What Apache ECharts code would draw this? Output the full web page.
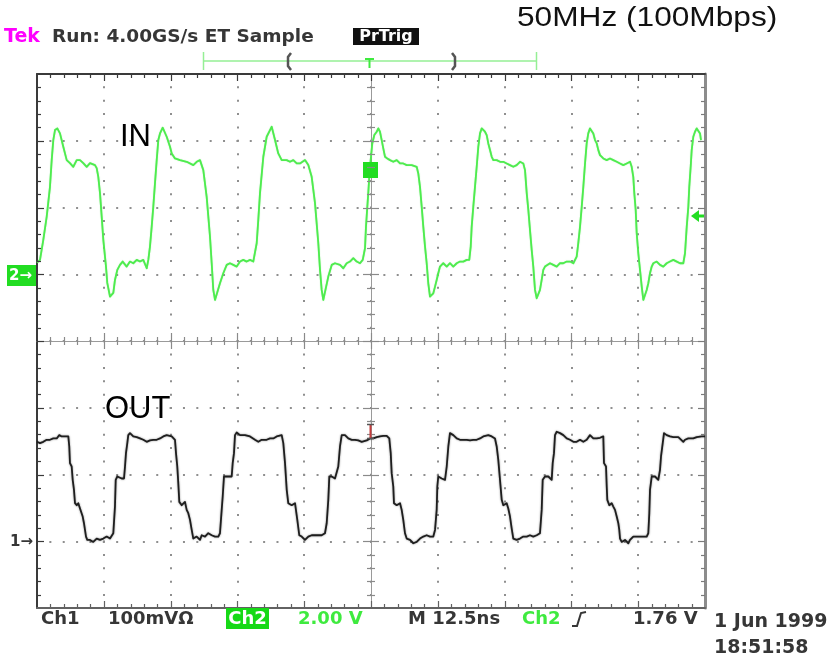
<!DOCTYPE html>
<html>
<head>
<meta charset="utf-8">
<title>50MHz (100Mbps)</title>
<script src="https://cdn.jsdelivr.net/npm/echarts@6/dist/echarts.min.js"></script>
<style>
  html, body { margin: 0; padding: 0; background: #ffffff; }
  #chart { width: 832px; height: 657px; }
</style>
</head>
<body>
<div id="chart"></div>
<script>
// Horizontal: time in ns relative to the trigger, 12.5 ns/div over 10 divisions
const timeRange = [-62.5, 62.5];
const timePerDiv = 12.5;
const minorPerDiv = 5;
// Graticule: 8 vertical divisions
const divRange = [-4, 4];
// Ch2 (IN): 2.00 V/div, ground one division above centre
const ch2Range = [-10, 6];
const ch2PerDiv = 2;
// Ch1 (OUT): 100 mV/div, ground three divisions below centre
const ch1Range = [-100, 700];
const ch1PerDiv = 100;

// Ch2 trace, [ns, V]
const inTrace = [
  [-62.5,0.35],[-61.94,0.43],[-61.32,1.03],[-60.69,1.72],[-60.07,2.62],[-59.75,3.42],[-59.45,4.02],[-59.13,4.32],
  [-58.70,4.37],[-58.20,4.22],[-57.58,3.82],[-56.94,3.42],[-56.33,3.33],[-55.71,3.22],[-55.07,3.42],[-54.45,3.42],
  [-53.84,3.33],[-53.20,3.22],[-52.58,3.33],[-51.65,3.27],[-51.33,3.18],[-51.03,2.92],[-50.71,2.43],[-50.39,1.72],
  [-50.09,1.03],[-49.59,0.23],[-49.35,-0.26],[-48.84,-0.67],[-48.52,-0.72],[-48.22,-0.56],[-47.91,-0.17],[-47.47,0.13],
  [-46.97,0.28],[-46.47,0.38],[-45.72,0.23],[-45.10,0.38],[-44.48,0.33],[-43.84,0.43],[-43.23,0.38],[-42.61,0.43],
  [-41.97,0.18],[-41.67,0.43],[-41.36,0.83],[-41.04,1.42],[-40.74,2.02],[-40.42,2.73],[-40.10,3.42],[-39.80,4.02],
  [-39.48,4.22],[-38.98,4.39],[-38.23,4.12],[-37.61,3.82],[-37.29,3.62],[-36.68,3.47],[-35.74,3.42],[-34.49,3.37],
  [-33.25,3.27],[-32.62,3.37],[-32.00,3.42],
  [-31.38,3.12],[-30.75,2.32],[-30.13,1.13],[-29.81,0.33],[-29.51,-0.47],[-29.19,-0.77],[-28.87,-0.77],[-28.26,-0.27],
  [-27.64,0.03],[-27.00,0.28],[-26.39,0.33],[-25.77,0.28],[-25.13,0.23],[-24.51,0.38],[-23.90,0.43],[-23.26,0.38],
  [-22.64,0.43],[-22.03,0.38],[-21.39,0.93],[-21.09,1.63],[-20.77,2.43],[-20.15,3.52],[-19.52,4.12],[-18.90,4.32],
  [-18.58,4.42],[-17.96,4.02],[-17.35,3.62],[-16.71,3.42],[-15.78,3.42],[-15.16,3.37],[-14.54,3.42],[-13.90,3.32],
  [-13.29,3.32],[-12.35,3.42],[-11.73,3.27],[-11.10,2.92],[-10.48,2.13],[-9.86,0.93],[-9.54,0.13],[-9.23,-0.47],
  [-8.93,-0.77],[-8.61,-0.72],[-7.99,-0.07],[-7.35,0.28],[-6.74,0.33],
  [-5.80,0.28],[-5.18,0.18],[-4.55,0.33],[-3.93,0.38],[-3.31,0.48],[-2.68,0.38],[-2.06,0.33],[-1.55,0.43],
  [-1.12,0.78],[-0.94,1.42],[-0.69,2.02],[-0.51,2.43],[-0.32,2.92],[-0.06,3.42],[0.24,3.92],[0.62,4.17],
  [1.07,4.27],[1.37,4.37],[1.68,4.27],[2.00,4.02],[2.30,3.77],[2.62,3.52],[3.05,3.47],[3.56,3.42],
  [4.17,3.37],[4.81,3.42],[5.43,3.32],[6.04,3.32],[6.68,3.27],[7.62,3.27],[8.55,3.22],[8.85,3.02],
  [9.17,2.62],[9.49,2.02],[9.79,1.42],[10.11,0.83],[10.42,0.33],[10.72,-0.27],[11.04,-0.67],[11.36,-0.69],
  [11.66,-0.57],[11.98,-0.37],[12.29,-0.17],[12.59,0.03],[12.91,0.23],[13.53,0.33],[14.17,0.23],[14.78,0.33],
  [15.40,0.23],[16.04,0.33],[16.65,0.38],[17.27,0.38],[17.91,0.43],[18.39,0.43],[18.66,0.83],[18.84,1.42],
  [19.14,2.02],[19.46,2.62],[19.78,3.22],[20.08,3.82],[20.40,4.22],[20.72,4.37],[21.01,4.37],[21.33,4.27],
  [21.65,4.17],[21.95,3.92],[22.27,3.72],[22.59,3.52],[22.89,3.42],[23.52,3.42],[24.14,3.37],[24.76,3.37],
  [25.39,3.32],[26.01,3.27],[26.63,3.22],[27.26,3.27],[27.88,3.37],
  [28.50,3.32],[28.82,3.12],[29.14,2.43],[29.44,1.93],[29.75,1.33],[30.07,0.73],[30.37,0.23],[30.69,-0.47],
  [31.01,-0.72],[31.31,-0.67],[31.62,-0.47],[31.94,-0.17],[32.24,0.13],[32.56,0.23],[32.88,0.28],[33.50,0.33],
  [34.11,0.28],[34.75,0.23],[35.37,0.33],[35.99,0.33],[36.62,0.38],[37.24,0.38],[37.86,0.33],[38.17,0.28],
  [38.49,0.53],[38.79,0.93],[39.11,1.42],[39.43,2.02],[39.73,2.62],[40.05,3.32],[40.36,3.92],[40.66,4.22],
  [40.98,4.37],[41.30,4.42],[41.60,4.22],[41.92,4.02],[42.24,3.92],[42.54,3.72],[42.85,3.57],[43.47,3.47],
  [44.11,3.42],[44.72,3.47],[45.34,3.42],[45.98,3.37],[46.60,3.32],[47.21,3.27],[47.85,3.32],[48.47,3.37],
  [48.78,3.22],[49.08,2.92],[49.27,2.43],[49.53,1.93],[49.72,1.23],[50.02,0.63],[50.34,0.13],[50.66,-0.37],
  [50.96,-0.77],[51.27,-0.72],[51.59,-0.47],[51.89,-0.27],[52.21,0.03],[52.53,0.23],[52.83,0.33],[53.46,0.38],
  [54.08,0.28],[54.70,0.23],[55.33,0.33],[55.95,0.38],[56.57,0.43],[57.21,0.38],[57.82,0.33],[58.44,0.33],
  [58.76,0.63],[59.08,1.42],[59.38,2.02],[59.56,2.62],[59.82,3.22],[60.01,3.72],[60.31,4.12],[60.63,4.27],
  [60.95,4.37],[61.25,4.32],[61.57,4.22],[61.75,4.02]
];

// Ch1 trace, [ns, mV]
const outTrace = [
  [-62.5,149],[-61.94,147],[-61.32,149],[-60.69,152],[-60.07,152],[-59.45,154],[-58.81,154],[-58.33,159],
  [-57.88,157],[-57.26,157],[-56.64,157],[-56.46,142],[-56.33,117],[-56.01,112],[-55.82,92],[-55.58,77],
  [-55.39,57],[-55.07,54],[-54.77,57],[-54.45,49],[-54.14,47],[-53.95,37],[-53.71,27],[-53.52,17],
  [-53.33,7],[-53.09,2],[-52.58,2],[-51.97,-1],[-51.33,4],[-50.71,2],[-50.09,4],[-49.46,7],
  [-48.84,4],[-48.22,12],[-47.91,52],[-47.77,92],[-47.47,97],[-46.65,94],[-46.22,94],[-46.03,112],
  [-45.85,132],[-45.60,147],[-45.42,159],[-45.10,162],[-44.48,157],[-43.84,156],[-43.23,154],[-42.61,152],
  [-41.97,149],[-41.36,151],[-40.74,152],[-40.10,152],[-39.48,154],[-38.87,157],[-38.23,159],[-37.93,157],
  [-37.29,157],[-36.68,152],[-36.49,132],[-36.25,112],[-36.06,87],[-35.87,59],[-35.42,54],[-34.81,59],
  [-34.49,47],[-34.19,42],[-33.87,32],[-33.55,17],[-33.25,4],[-32.62,7],[-32.00,2],
  [-31.68,9],[-31.06,7],[-30.45,12],[-29.81,9],[-29.19,7],[-28.57,7],[-28.26,12],[-27.94,47],
  [-27.75,67],[-27.51,97],[-26.70,97],[-26.07,97],[-25.88,117],[-25.64,132],[-25.45,159],[-25.13,163],
  [-24.51,159],[-23.58,159],[-22.64,157],[-21.71,152],[-21.09,149],[-20.45,152],[-19.52,152],[-18.90,154],
  [-18.28,154],[-17.65,157],[-16.71,159],[-16.41,147],[-16.09,117],[-15.77,77],[-15.48,57],[-14.84,54],
  [-14.22,57],[-13.79,32],[-13.42,9],[-12.97,7],[-12.35,2],[-11.73,7],[-11.10,9],[-10.48,9],
  [-9.86,9],[-9.23,9],[-8.61,12],[-8.29,27],[-7.99,62],[-7.80,97],
  [-7.35,97],[-6.74,94],[-6.42,92],[-6.12,112],[-5.80,142],[-5.48,159],[-4.87,159],[-4.25,154],
  [-3.61,152],[-2.99,152],[-2.38,151],[-1.74,149],[-1.44,147],[-0.80,151],[-0.19,154],[0.43,154],
  [1.07,156],[1.68,157],[2.30,158],[2.94,158],[3.42,154],[3.69,132],[3.87,102],[4.17,82],
  [4.30,57],[4.81,54],[5.43,57],[5.74,47],[6.04,32],[6.36,12],[6.68,4],[7.30,2],
  [7.92,-3],[8.55,-1],[9.17,4],[9.79,7],[10.42,9],[11.04,7],[11.66,7],[11.98,17],
  [12.29,47],[12.41,82],[12.59,97],[13.23,94],[13.85,92],[14.17,112],[14.47,142],[14.78,162],
  [15.40,159],[16.04,154],[16.65,152],[17.27,152],[17.91,152],[18.53,151],[19.14,152],[19.78,152],
  [20.40,154],[21.01,157],[21.95,159],[22.59,157],[23.20,154],[23.52,142],[23.82,122],[24.14,92],
  [24.46,62],[24.76,54],[25.39,57],[25.69,49],[26.01,37],[26.33,19],[26.63,4],[27.26,2],
  [27.88,4],[28.50,7],[29.14,7],[29.75,9],
  [30.37,7],[31.01,9],[31.62,12],[31.94,47],[32.13,92],[32.56,97],[33.18,97],[33.81,92],
  [34.00,117],[34.24,132],[34.43,159],[34.75,164],[35.37,162],[35.99,159],[36.62,154],[37.24,152],
  [37.86,149],[38.49,149],[39.11,152],[39.73,149],[40.36,152],[40.98,159],[41.60,154],[42.24,154],
  [42.85,155],
  [43.47,157],[43.60,117],[43.98,112],[44.11,82],[44.22,62],[44.59,54],[45.04,57],[45.34,52],
  [45.66,47],[45.98,37],[46.28,27],[46.46,17],[46.60,4],[46.91,-1],[47.53,2],[48.15,-3],
  [48.47,2],[49.08,7],[49.72,7],[50.34,7],[50.96,7],[51.59,7],[51.89,12],[52.08,42],
  [52.21,77],[52.53,97],[53.15,97],[53.76,92],[54.08,107],[54.27,127],[54.59,147],[54.83,162],
  [55.33,159],[55.95,157],[56.57,156],[57.51,156],[58.44,149],[58.76,152],[59.38,154],[60.31,154],
  [60.95,156],[61.88,157],[62.5,157]
];

// Readout texts
const headerLeft = 'Run: 4.00GS/s ET Sample';
const headerBadge = 'PrTrig';
const title = '50MHz (100Mbps)';
const traceNames = ['IN', 'OUT'];
const readout = {
  ch1: 'Ch1', ch1Scale: '100mV\u03A9', ch2: 'Ch2', ch2Scale: '2.00 V',
  timebase: 'M 12.5ns', trigSource: 'Ch2', trigLevel: '1.76 V',
  date: '1 Jun 1999', time: '18:51:58'
};

const GREEN = '#3fea3f';
const TRACE_GREEN = '#4eec4e';
const INK = '#363636';
const SCOPE_FONT = '"DejaVu Sans", sans-serif';

// Screen graticule box
const PLOT = { left: 37, top: 74, width: 668, height: 534 };

function hidden() {
  return {
    axisLabel: { show: false }, axisLine: { show: false, onZero: false },
    axisTick: { show: false }, minorTick: { show: false }, splitLine: { show: false }
  };
}
function box() {
  return Object.assign({ outerBoundsMode: 'none', containLabel: false }, PLOT);
}

const grids = [];
const xAxes = [];
const yAxes = [];

// Layers 0/1: the two channels on their own vertical scales; layer 0 also carries the dotted graticule
const dotted = { show: true, lineStyle: { color: '#8f8f8f', width: 2, type: [2, 11.36], dashOffset: 1 } };
grids.push(box(), box());
xAxes.push(
  Object.assign({ type: 'value', gridIndex: 0, min: timeRange[0], max: timeRange[1], interval: timePerDiv }, hidden(), { splitLine: dotted }),
  Object.assign({ type: 'value', gridIndex: 1, min: timeRange[0], max: timeRange[1], interval: timePerDiv }, hidden())
);
yAxes.push(
  Object.assign({ type: 'value', gridIndex: 0, min: ch2Range[0], max: ch2Range[1], interval: ch2PerDiv }, hidden(), { splitLine: dotted }),
  Object.assign({ type: 'value', gridIndex: 1, min: ch1Range[0], max: ch1Range[1], interval: ch1PerDiv }, hidden())
);

// Frame edges and centre cross lines
function lineLayer(xPos, yPos, onZero, xStyle, yStyle) {
  const g = grids.length;
  grids.push(box());
  xAxes.push(Object.assign({ type: 'value', gridIndex: g, min: timeRange[0], max: timeRange[1], interval: timePerDiv, position: xPos }, hidden(),
    { axisLine: { show: true, onZero, lineStyle: xStyle } }));
  yAxes.push(Object.assign({ type: 'value', gridIndex: g, min: divRange[0], max: divRange[1], interval: 1, position: yPos }, hidden(),
    { axisLine: { show: true, onZero, lineStyle: yStyle } }));
}
lineLayer('bottom', 'left', false, { color: '#626262', width: 2 }, { color: '#3a3a3a', width: 2 });
lineLayer('top', 'right', false, { color: '#3a3a3a', width: 2 }, { color: '#8c8c8c', width: 3 });
lineLayer('bottom', 'left', true, { color: '#9a9a9a', width: 1 }, { color: '#9a9a9a', width: 1 });

function txt(text, x, y, font, fill, extra) {
  return Object.assign({
    type: 'text', x, y, z: 20, silent: true,
    style: { text, x: 0, y: 0, font, fill, align: 'left', verticalAlign: 'middle' }
  }, extra || {});
}
function seg(points, stroke, lineWidth) {
  return { type: 'polyline', z: 20, silent: true, shape: { points }, style: { stroke, lineWidth, fill: null } };
}

// Graticule tick marks: one per fifth of a division on the frame edges and along the centre cross
function buildTicks() {
  const out = [];
  const nDivX = Math.round((timeRange[1] - timeRange[0]) / timePerDiv);
  const nDivY = Math.round((divRange[1] - divRange[0]));
  const stepX = PLOT.width / (nDivX * minorPerDiv);
  const stepY = PLOT.height / (nDivY * minorPerDiv);
  const edgeL = PLOT.left, edgeR = PLOT.left + PLOT.width;
  const edgeT = PLOT.top, edgeB = PLOT.top + PLOT.height;
  const midX = PLOT.left + PLOT.width / 2, midY = PLOT.top + PLOT.height / 2;
  for (let i = 1; i < nDivX * minorPerDiv; i++) {
    const x = Math.round(edgeL + i * stepX) + 0.5;
    const major = i % minorPerDiv === 0;
    out.push(seg([[x, edgeT], [x, edgeT + (major ? 7 : 4)]], '#3a3a3a', 1.2));
    out.push(seg([[x, edgeB], [x, edgeB - (major ? 7 : 4)]], '#626262', 1.2));
    const h = major ? 8 : 4;
    out.push(seg([[x, midY - h], [x, midY + h]], '#8a8a8a', 1.2));
  }
  for (let j = 1; j < nDivY * minorPerDiv; j++) {
    const y = Math.round(edgeT + j * stepY) + 0.5;
    const major = j % minorPerDiv === 0;
    out.push(seg([[edgeL, y], [edgeL + (major ? 7 : 4), y]], '#3a3a3a', 1.2));
    out.push(seg([[edgeR, y], [edgeR - (major ? 7 : 4), y]], '#7a7a7a', 1.2));
    const w = major ? 8 : 4;
    out.push(seg([[midX - w, y], [midX + w, y]], '#8a8a8a', 1.2));
  }
  return out;
}

const readoutFont = 'bold 18px ' + SCOPE_FONT;
const labels = [
  // top status line
  txt('Tek', 4, 37, 'bold 19px ' + SCOPE_FONT, '#ff00ff'),
  txt(headerLeft, 52, 37, 'bold 18.5px ' + SCOPE_FONT, INK),
  { type: 'rect', z: 19, silent: true, shape: { x: 353, y: 28, width: 66, height: 17 }, style: { fill: '#111111' } },
  txt(headerBadge, 386, 37, 'bold 16px ' + SCOPE_FONT, '#ffffff', { style: { text: headerBadge, x: 0, y: 0, font: 'bold 16px ' + SCOPE_FONT, fill: '#ffffff', align: 'center', verticalAlign: 'middle' } }),
  txt(title, 517, 18, '28px "Liberation Sans", Arial, sans-serif', '#111111', { scaleX: 1.13 }),
  // record-length bar
  seg([[203, 61], [537, 61]], '#95ef95', 1.5),
  seg([[203.5, 52], [203.5, 70]], '#95ef95', 1.5),
  seg([[536.5, 52], [536.5, 70]], '#95ef95', 1.5),
  seg([[291, 53], [288, 57], [288, 66], [291, 70]], '#555555', 2.5),
  seg([[452, 53], [455, 57], [455, 66], [452, 70]], '#555555', 2.5),
  seg([[365, 59], [374, 59]], GREEN, 2),
  seg([[369.5, 59], [369.5, 68]], GREEN, 2),
  // trace labels
  txt(traceNames[0], 120, 137, '31px "Liberation Sans", Arial, sans-serif', '#000000'),
  txt(traceNames[1], 105, 409, '31px "Liberation Sans", Arial, sans-serif', '#000000'),
  // channel ground markers
  { type: 'rect', z: 19, silent: true, shape: { x: 7, y: 265, width: 29, height: 21 }, style: { fill: '#22dd22' } },
  txt('2\u2192', 9, 276, 'bold 15px ' + SCOPE_FONT, '#ffffff'),
  txt('1\u2192', 10, 542, 'bold 15px ' + SCOPE_FONT, INK),
  // trigger markers
  { type: 'rect', z: 19, silent: true, shape: { x: 363, y: 162, width: 15, height: 16 }, style: { fill: '#22dd22' } },
  { type: 'polygon', z: 19, silent: true, shape: { points: [[691, 216], [699, 210], [699, 222]] }, style: { fill: '#22dd22' } },
  seg([[698, 216], [704, 216]], '#22dd22', 3),
  seg([[370.5, 425], [370.5, 438]], '#c43c3c', 2),
  seg([[367, 424.5], [374, 424.5]], '#555555', 1.5),
  seg([[367, 438.5], [374, 438.5]], '#555555', 1.5),
  // bottom readout
  txt(readout.ch1, 41, 619, readoutFont, INK),
  txt(readout.ch1Scale, 108, 619, readoutFont, INK),
  { type: 'rect', z: 19, silent: true, shape: { x: 226, y: 608, width: 43, height: 21 }, style: { fill: '#16d916' } },
  txt(readout.ch2, 247.5, 619, readoutFont, '#ffffff', { style: { text: readout.ch2, x: 0, y: 0, font: readoutFont, fill: '#ffffff', align: 'center', verticalAlign: 'middle' } }),
  txt(readout.ch2Scale, 298, 619, readoutFont, GREEN),
  txt(readout.timebase, 408, 619, readoutFont, INK),
  txt(readout.trigSource, 522, 619, readoutFont, GREEN),
  seg([[572, 626], [577, 626], [581, 613], [586, 612]], INK, 2),
  txt(readout.trigLevel, 633, 619, readoutFont, INK),
  txt(readout.date, 714, 622, 'bold 19px ' + SCOPE_FONT, INK),
  txt(readout.time, 714, 648, 'bold 19px ' + SCOPE_FONT, INK)
];

const option = {
  animation: false,
  backgroundColor: '#ffffff',
  grid: grids,
  xAxis: xAxes,
  yAxis: yAxes,
  graphic: buildTicks().concat(labels),
  series: [
    {
      name: traceNames[0], type: 'line', xAxisIndex: 0, yAxisIndex: 0, data: inTrace,
      showSymbol: false, silent: true, z: 5,
      lineStyle: { color: TRACE_GREEN, width: 1.8, join: 'round', shadowBlur: 1, shadowColor: 'rgba(60,220,60,0.5)' }
    },
    {
      name: traceNames[1], type: 'line', xAxisIndex: 1, yAxisIndex: 1, data: outTrace,
      showSymbol: false, silent: true, z: 5,
      lineStyle: { color: '#1e1e1e', width: 1.8, join: 'round', shadowBlur: 2, shadowColor: 'rgba(0,0,0,0.45)' }
    }
  ]
};

const chart = echarts.init(document.getElementById('chart'), null, { renderer: 'canvas' });
chart.setOption(option);
</script>
</body>
</html>
